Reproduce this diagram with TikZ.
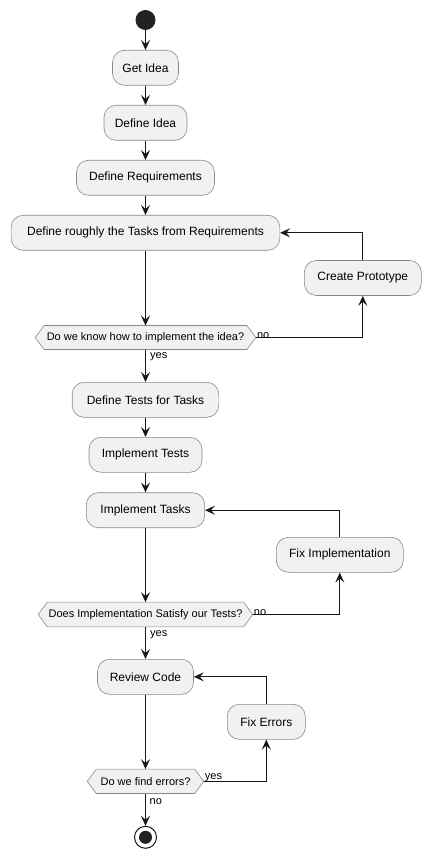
\documentclass[tikz,border=0pt]{standalone}
\usepackage{fontspec}
\setmainfont{Liberation Sans}
\usetikzlibrary{arrows.meta}
\definecolor{boxfill}{HTML}{F1F1F1}
\definecolor{boxline}{HTML}{888888}
\definecolor{ink}{HTML}{181818}
\definecolor{dot}{HTML}{222222}
\tikzset{
  act/.style={draw=boxline, fill=boxfill, rounded corners=12pt, line width=0.6pt,
    minimum height=35pt, inner sep=0pt, font=\fontsize{12}{14}\selectfont, text=black},
  dec/.style={inner sep=0pt, minimum height=24pt, font=\fontsize{11}{13}\selectfont, text=black},
  hexa/.style={draw=boxline, fill=boxfill, line width=0.6pt},
  flow/.style={draw=ink, line width=1pt, -{Stealth[length=10pt,width=9pt,inset=4pt]}},
  lbl/.style={font=\fontsize{11}{13}\selectfont, inner sep=0pt, text=black}
}
\newcommand{\hexagon}[1]{%
  \path[hexa] (#1.west) -- ([xshift=9pt]#1.north west) -- ([xshift=-9pt]#1.north east)
    -- (#1.east) -- ([xshift=-9pt]#1.south east) -- ([xshift=9pt]#1.south west) -- cycle;}
\begin{document}
\begin{tikzpicture}[x=1pt,y=-1pt]
\useasboundingbox (0,0) rectangle (431,858);
\node[circle, fill=dot, minimum size=20pt, inner sep=0pt] (start) at (145.5,20) {};
\node[act, minimum width=66pt] (getidea) at (145.5,67.8) {Get Idea};
\node[act, minimum width=83pt] (defidea) at (145.5,122.8) {Define Idea};
\node[act, minimum width=138pt] (defreq) at (145.5,177.8) {Define Requirements};
\node[act, minimum width=268.7pt] (defrough) at (145.5,232.8) {Define roughly the Tasks from Requirements};
\node[act, minimum width=117pt] (proto) at (362.8,278) {Create Prototype};
\node[dec, minimum width=220.3pt, minimum height=23.6pt] (dec1) at (145.5,337.5) {};
\hexagon{dec1}
\node[dec] at (dec1) {Do we know how to implement the idea?};
\node[act, minimum width=146.6pt] (deftests) at (145.5,399.8) {Define Tests for Tasks\ };
\node[act, minimum width=113pt] (impltests) at (145.5,454.8) {Implement Tests};
\node[act, minimum width=118.3pt] (impltasks) at (145.5,510.2) {Implement Tasks};
\node[act, minimum width=127pt] (fiximpl) at (339.8,554.8) {Fix Implementation};
\node[dec, minimum width=214pt, minimum height=24.4pt] (dec2) at (145.5,614.5) {};
\hexagon{dec2}
\node[dec] at (dec2) {Does Implementation Satisfy our Tests?};
\node[act, minimum width=96pt] (review) at (145.5,676.8) {Review Code};
\node[act, minimum width=78pt] (fixerr) at (266.3,721.8) {Fix Errors};
\node[dec, minimum width=116pt, minimum height=24pt] (dec3) at (145.5,781.3) {};
\hexagon{dec3}
\node[dec] at (dec3) {Do we find errors?};
\node[circle, draw=ink, line width=1pt, fill=white, minimum size=22pt, inner sep=0pt] (end) at (145.5,837.3) {};
\node[circle, fill=dot, minimum size=13pt, inner sep=0pt] (endin) at (end) {};

\draw[flow] (start) -- (getidea);
\draw[flow] (getidea) -- (defidea);
\draw[flow] (defidea) -- (defreq);
\draw[flow] (defreq) -- (defrough);
\draw[flow] (defrough) -- (dec1);
\draw[flow] (dec1.east) -| (proto.south);
\draw[flow] (proto.north) |- (defrough.east);
\draw[flow] (dec1) -- (deftests);
\draw[flow] (deftests) -- (impltests);
\draw[flow] (impltests) -- (impltasks);
\draw[flow] (impltasks) -- (dec2);
\draw[flow] (dec2.east) -| (fiximpl.south);
\draw[flow] (fiximpl.north) |- (impltasks.east);
\draw[flow] (dec2) -- (review);
\draw[flow] (review) -- (dec3);
\draw[flow] (dec3.east) -| (fixerr.south);
\draw[flow] (fixerr.north) |- (review.east);
\draw[flow] (dec3) -- (end);

\node[lbl, anchor=south west] (no1) at ([xshift=1pt,yshift=-1pt]dec1.east) {no};
\node[lbl, anchor=west] (yes1) at (150,357) {yes};
\node[lbl, anchor=south west] (no2) at ([xshift=1pt,yshift=-1pt]dec2.east) {no};
\node[lbl, anchor=west] (yes2) at (150,634.7) {yes};
\node[lbl, anchor=south west] (yes3) at ([xshift=1pt,yshift=-1pt]dec3.east) {yes};
\node[lbl, anchor=west] (no3) at (149.5,801.7) {no};
\end{tikzpicture}
\end{document}
